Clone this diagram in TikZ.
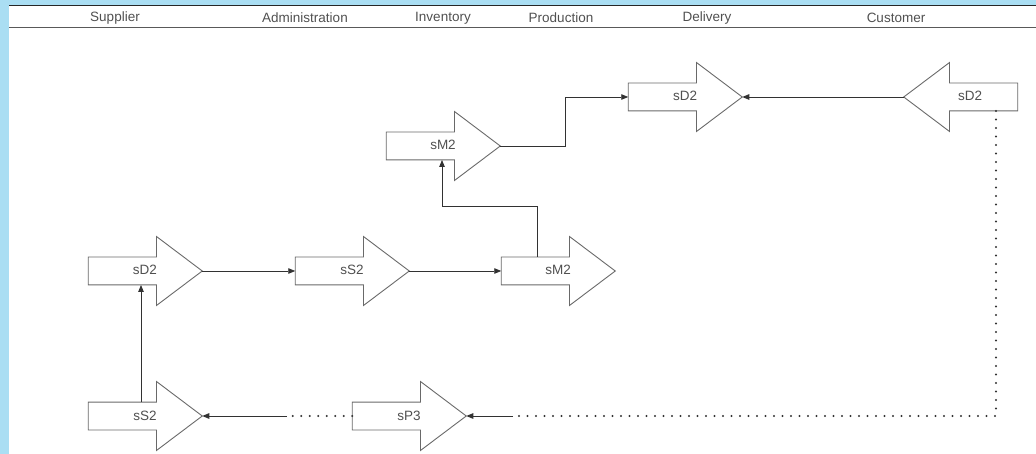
\documentclass[tikz,border=0pt]{standalone}
\usepackage{fontspec}
\setsansfont{Liberation Sans}
\usetikzlibrary{arrows.meta,shapes.arrows,calc}
\definecolor{frameblue}{RGB}{170,222,243}
\definecolor{linegray}{RGB}{50,50,50}
\definecolor{shapegray}{RGB}{105,105,105}
\definecolor{txtgray}{RGB}{80,80,80}

\begin{document}
\begin{tikzpicture}[x=1pt, y=-1pt,
    lane/.style={font=\sffamily\fontsize{13.5}{16}\selectfont, text=txtgray},
    proc/.style={single arrow, draw=shapegray, line width=0.9pt, fill=white,
        single arrow head extend=20.5pt, single arrow tip angle=74, single arrow head indent=0pt,
        minimum height=114pt, text height=9pt, text depth=1pt, inner ysep=8.5pt, inner xsep=0pt,
        outer sep=0pt, font=\sffamily\fontsize{13.5}{16}\selectfont, text=txtgray,
        execute at begin node=\hbox to 0pt\bgroup\hss\hskip18pt, execute at end node=\hss\egroup},
    back/.style={proc, shape border rotate=180,
        execute at begin node=\hbox to 0pt\bgroup\hss, execute at end node=\hskip18pt\hss\egroup},
    arr/.style={-{Triangle[length=7pt,width=5.5pt]}, linegray, line width=0.9pt},
    dots/.style={linegray, line width=2.2pt, line cap=round, dash pattern=on 0pt off 8.5pt}
]
\useasboundingbox (0,0) rectangle (1036,454);
% frame and lane header
\fill[frameblue] (0,0) rectangle (9,454);
\fill[frameblue] (0,0) rectangle (1036,5);
\draw[black!85, line width=1.2pt] (9,5.6) -- (1036,5.6);
\draw[black!65, line width=1.8pt] (9,27.6) -- (1036,27.6);

\node[lane] (hSup) at (115,18) {Supplier};
\node[lane] (hAdm) at (305,18) {Administration};
\node[lane] (hInv) at (443,18) {Inventory};
\node[lane] (hPro) at (561,18) {Production};
\node[lane] (hDel) at (707,18) {Delivery};
\node[lane] (hCus) at (896,18) {Customer};

% process steps (node centre sits 9pt behind the middle of the arrow)
\node[proc] (smTop) at (434,146) {sM2};
\node[proc] (sdDel) at (676,97) {sD2};
\node[back] (sdCus) at (970,97) {sD2};
\node[proc] (sdSup) at (136,271) {sD2};
\node[proc] (ssAdm) at (343,271) {sS2};
\node[proc] (smInv) at (549,271) {sM2};
\node[proc] (ssSup) at (136,416) {sS2};
\node[proc] (spAdm) at (400,416) {sP3};

\coordinate (gapR) at (513,416);
\coordinate (gapL) at (287,416);

\draw[arr] (sdCus.tip) -- (sdDel.tip);
\draw[arr] (smTop.tip) -- ++(65,0) |- (sdDel.tail);
\draw[arr] ([xshift=-12pt]smInv.north) -- ++(0,-51) -| ([xshift=8pt]smTop.south);
\draw[arr] (sdSup.tip) -- (ssAdm.tail);
\draw[arr] (ssAdm.tip) -- (smInv.tail);
\draw[arr] ([xshift=5pt]ssSup.north) -- ([xshift=5pt]sdSup.south);
\draw[dots] ([xshift=26pt]sdCus.south) |- (gapR);
\draw[arr] (gapR) -- (spAdm.tip);
\draw[dots] (spAdm.tail) -- (gapL);
\draw[arr] (gapL) -- (ssSup.tip);
\end{tikzpicture}
\end{document}
